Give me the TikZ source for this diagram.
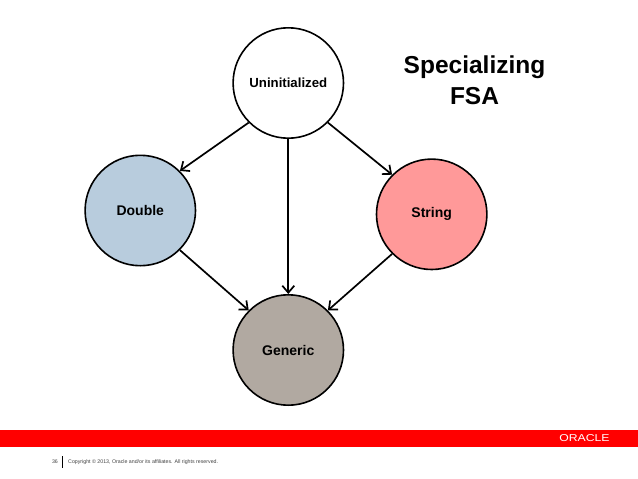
\documentclass[tikz,border=0pt]{standalone}
\usepackage{fontspec}
\setmainfont{Liberation Sans}
\usetikzlibrary{arrows.meta,positioning}
\definecolor{doubleblue}{HTML}{B8CCDD}
\definecolor{stringred}{HTML}{FF9999}
\definecolor{genericgray}{HTML}{B1A9A1}

\begin{document}
\begin{tikzpicture}[
    x=1pt,y=1pt,
    state/.style={circle,draw,line width=1.6pt,minimum size=110.4pt,inner sep=0pt,align=center,font=\fontsize{14}{16}\selectfont\bfseries},
    arrow/.style={line width=1.7pt,-{Straight Barb[length=7pt,width=12pt]}},
    footer/.style={inner sep=0pt,font=\fontsize{5.25}{6.5}\selectfont,text=black!75}
]
    \useasboundingbox (0,0) rectangle (638,-479);

    \node[state,fill=white,font=\fontsize{13.2}{16}\selectfont\bfseries] (uninit) at (288.3,-83) {Uninitialized};
    \node[state,fill=genericgray,below=155pt of uninit] (generic) {Generic};
    \node[state,fill=doubleblue,left=36pt of generic,yshift=139.5pt] (double) {Double};
    \node[state,fill=stringred,right=31.4pt of generic,yshift=135.7pt] (string) {String};

    \draw[arrow] (uninit.225) -- (double.45);
    \draw[arrow] (uninit.-45) -- (string.135);
    \draw[arrow] (uninit) -- (generic);
    \draw[arrow] (double.-45) -- (generic.135);
    \draw[arrow] (string.225) -- (generic.45);

    \node[align=center,inner sep=0pt,font=\fontsize{24.5}{30.5}\selectfont\bfseries] (title) at (474.5,-80) {Specializing\\FSA};

    % footer band
    \node[fill=red,minimum width=638pt,minimum height=16.5pt,inner sep=0pt] (band) at (319,-438.5) {};
    \node[text=white,inner sep=0pt,xscale=1.22,font=\fontsize{10}{12}\selectfont] (oracle) at (584.5,-438.5) {ORACLE};

    \node[footer] (page) at (55,-461.8) {36};
    \node[fill=black,minimum width=1pt,minimum height=12pt,inner sep=0pt,right=3.5pt of page] (rule) {};
    \node[footer,right=5pt of rule] (copyright) {Copyright © 2013, Oracle and/or its affiliates. All rights reserved.};
\end{tikzpicture}
\end{document}
